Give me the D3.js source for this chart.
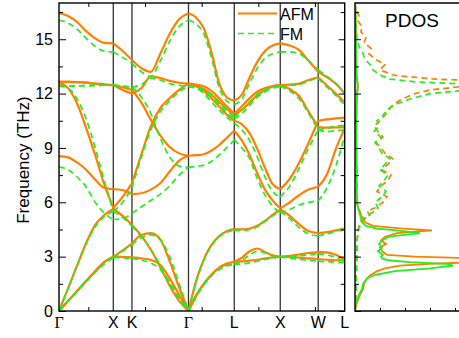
<!DOCTYPE html>
<html>
<head>
<meta charset="utf-8">
<script src="https://cdnjs.cloudflare.com/ajax/libs/d3/7.8.5/d3.min.js"></script>
<style>
  body { margin: 0; background: #fff; }
  svg { display: block; font-family: "Liberation Sans", Arial, sans-serif; }
</style>
</head>
<body>
<svg id="chart" width="459" height="338"></svg>
<script>
// k-path (distance along Γ-X-K-Γ-L-X-W-L)
const kPath = [0, 0.167, 0.333, 0.5, 0.667, 0.833, 1.0, 1.172, 1.344,
  1.518, 1.692, 1.865, 2.039, 2.212, 2.385, 2.525, 2.667, 2.807, 2.947, 3.088, 3.228,
  3.37, 3.512, 3.652, 3.794, 3.934, 4.075, 4.25, 4.425, 4.599, 4.774, 4.936, 5.099, 5.262];
const symIndex = [0, 6, 8, 14, 20, 26, 30, 33];
const symLabels = ["Γ", "X", "K", "Γ", "L", "X", "W", "L"];
const kTicks = [0.54, 1.584, 2.628, 3.672, 4.714];
const yMajor = [0, 3, 6, 9, 12, 15];
const yMinor = [1.5, 4.5, 7.5, 10.5, 13.5, 16.5];

const N = null;
// AFM branches (THz)
const afmTA1 = [0, 0.55, 1.1, 1.65, 2.2, 2.7, 3.0, 2.99, 2.96, 2.9, 2.82, 2.55, 1.8, 0.9, 0,
  0.85, 1.5, 2.0, 2.38, 2.6, 2.72, 2.74, 2.78, 2.83, 2.9, 2.96, 3.0, 2.98, 2.95, 2.9, 2.87, 2.83, 2.8, 2.78];
const afmTA2 = [0, 0.55, 1.1, 1.65, 2.2, 2.7, 3.0, 3.35, 3.73, 4.2, 4.3, 3.95, 2.75, 1.3, 0,
  0.85, 1.5, 2.0, 2.38, 2.6, 2.72, 2.95, 3.3, 3.45, 3.25, 3.07, 3.0, 3.05, 3.12, 3.2, 3.25, 3.24, 3.1, 2.82];
const afmLA = [0, 1.25, 2.5, 3.75, 4.75, 5.3, 5.63, 5.25, 4.75, 4.15, 3.38, 2.42, 1.4, 0.56, 0,
  1.65, 2.85, 3.65, 4.12, 4.4, 4.52, 4.5, 4.55, 4.7, 4.98, 5.3, 5.6, 5.25, 4.78, 4.4, 4.3, 4.35, 4.45, 4.55];
const afmOpt1 = [12.6, 12.3, 11.45, 10.1, 8.6, 7.0, 5.7, 6.3, 7.05, 8.65, 10.2, 11.2, 11.75, 12.2, 12.55,
  12.4, 12.15, 11.75, 11.3, 10.85, 10.5, 10.3, 9.8, 8.95, 7.9, 7.0, 6.72, 7.3, 8.2, 9.3, 10.5, 10.58, 10.63, 10.67];
const afmOpt2 = [8.55, 8.48, 8.2, 7.8, 7.25, 6.8, 6.72, 6.68, 6.45, 6.5, 6.7, 7.05, 7.7, 8.3, 8.57,
  8.6, 8.65, 8.85, 9.15, 9.55, 9.95, 9.4, 8.6, 7.6, 6.7, 6.1, 5.67, 6.0, 6.4, 6.7, 6.86, 7.55, 8.95, 10.08];
const afmOpt3 = [12.65, 12.65, 12.63, 12.6, 12.55, 12.5, 12.47, 12.35, 12.2, 11.5, 10.55, 9.7, 9.05, 8.7, 8.57,
  N, N, N, N, N, N, N, N, N, N, N, N, N, N, N, N, N, N, N];
const afmOpt4 = [12.65, 12.65, 12.63, 12.6, 12.55, 12.5, 12.47, 12.2, 12.0, 12.3, 12.95, 12.85, 12.7, 12.6, 12.55,
  12.5, 12.4, 12.15, 11.75, 11.3, 10.9, 11.3, 11.75, 12.1, 12.3, 12.42, 12.47, 12.5, 12.55, 12.75, 12.9, 12.45, 12.0, 11.5];
const afmOpt5 = [N, N, N, N, N, N, N, N, N, N, N, N, N, N, 12.55,
  12.45, 12.25, 11.95, 11.55, 11.15, 10.85, 11.1, 11.5, 11.9, 12.2, 12.4, 12.47, 12.25, 11.85, 11.0, 10.15, 10.12, 10.13, 10.15];
const afmTop = [16.46, 16.28, 15.95, 15.45, 15.05, 14.8, 14.77, 14.35, 13.85, 13.4, 13.2, 14.2, 15.3, 16.1, 16.43,
  16.2, 15.6, 14.3, 12.6, 11.8, 11.6, 11.95, 12.9, 13.75, 14.35, 14.65, 14.77, 14.65, 14.4, 13.8, 13.2, 12.9, 12.55, 12.0];

// FM branches (THz)
const fmTA1 = [0, 0.55, 1.1, 1.62, 2.15, 2.6, 2.95, 2.93, 2.9, 2.8, 2.65, 2.3, 1.6, 0.75, 0,
  0.8, 1.45, 1.95, 2.3, 2.5, 2.58, 2.6, 2.66, 2.75, 2.85, 2.92, 2.97, 2.92, 2.85, 2.8, 2.75, 2.72, 2.7, 2.66];
const fmTA2 = [0, 0.55, 1.1, 1.62, 2.15, 2.6, 2.95, 3.3, 3.65, 4.05, 4.2, 3.95, 3.0, 1.5, 0,
  0.8, 1.45, 1.95, 2.3, 2.5, 2.58, 2.8, 3.1, 3.3, 3.2, 3.05, 2.97, 3.0, 3.05, 3.1, 3.15, 3.1, 2.95, 2.7];
const fmLA = [0, 1.25, 2.5, 3.7, 4.65, 5.2, 5.5, 5.15, 4.7, 4.1, 3.4, 2.5, 1.5, 0.65, 0,
  1.6, 2.8, 3.6, 4.1, 4.35, 4.45, 4.45, 4.5, 4.65, 4.95, 5.25, 5.5, 5.1, 4.6, 4.25, 4.15, 4.25, 4.4, 4.5];
const fmOpt1 = [12.42, 12.3, 11.7, 10.6, 9.0, 7.2, 5.5, 6.0, 6.8, 8.5, 10.0, 11.0, 11.6, 12.1, 12.4,
  12.3, 12.0, 11.55, 11.1, 10.7, 10.36, 10.0, 9.4, 8.5, 7.4, 6.6, 6.3, 6.9, 7.9, 9.0, 10.0, 10.1, 10.2, 10.25];
const fmOpt2 = [7.96, 7.8, 7.4, 6.85, 6.0, 5.4, 5.05, 5.1, 5.39, 5.75, 6.1, 6.45, 6.9, 7.5, 7.93,
  7.98, 8.05, 8.25, 8.6, 9.0, 9.44, 9.0, 8.4, 7.3, 6.4, 5.8, 5.4, 5.6, 5.85, 6.0, 6.07, 6.8, 8.0, 9.7];
const fmOpt3 = [12.42, 12.42, 12.43, 12.44, 12.45, 12.46, 12.47, 12.42, 12.35, 11.8, 10.9, 9.55, 8.5, 8.0, 7.93,
  N, N, N, N, N, N, N, N, N, N, N, N, N, N, N, N, N, N, N];
const fmOpt4 = [12.42, 12.42, 12.43, 12.44, 12.45, 12.46, 12.47, 12.4, 12.35, 12.5, 12.85, 12.75, 12.55, 12.45, 12.4,
  12.35, 12.2, 11.95, 11.55, 11.1, 10.7, 11.1, 11.55, 11.95, 12.2, 12.35, 12.4, 12.45, 12.5, 12.7, 12.85, 12.35, 11.9, 11.35];
const fmOpt5 = [N, N, N, N, N, N, N, N, N, N, N, N, N, N, 12.4,
  12.3, 12.1, 11.8, 11.4, 10.95, 10.6, 10.9, 11.35, 11.8, 12.1, 12.3, 12.4, 12.15, 11.7, 10.9, 10.0, 9.9, 9.95, 10.0];
const fmTop = [16.05, 15.9, 15.55, 15.05, 14.6, 14.35, 14.3, 14.0, 13.67, 13.2, 12.95, 13.8, 14.9, 15.7, 16.05,
  15.85, 15.3, 14.0, 12.35, 11.6, 11.4, 11.7, 12.6, 13.4, 13.95, 14.2, 14.3, 14.3, 14.2, 13.8, 13.3, 12.95, 12.55, 12.0];

// PDOS (arb. units)
const dosFreq = [0, 0.3, 0.6, 0.9, 1.2, 1.5, 1.8, 2.0, 2.2, 2.35, 2.5, 2.6, 2.7, 2.8, 2.9, 3.0, 3.1, 3.3, 3.5, 3.7,
  3.9, 4.1, 4.3, 4.45, 4.55, 4.7, 4.9, 5.1, 5.3, 5.5, 5.7, 6.0, 6.3, 6.6, 6.9, 7.2, 7.5, 7.8, 8.1, 8.4,
  8.7, 9.0, 9.3, 9.6, 9.9, 10.2, 10.5, 10.8, 11.1, 11.4, 11.7, 12.0, 12.2, 12.35, 12.5, 12.65, 12.8, 13.0, 13.3, 13.6,
  13.9, 14.2, 14.5, 14.8, 15.1, 15.4, 15.7, 16.0, 16.3, 16.6, 17.0];
const dosAfmSolid = [0, 1, 3, 5, 8, 9, 12, 16, 22, 30, 45, 75, 120, 150, 130, 60, 32, 27, 25, 31,
  26, 30, 42, 77, 48, 18, 10, 8, 6, 5, 3, 2, 2, 1.5, 2, 1.5, 1.5, 2, 1.5, 1.5,
  1.5, 1.5, 1, 1.5, 1, 1.5, 1, 1.5, 1.5, 1.5, 2, 2, 2.5, 3, 3, 2.5, 2, 1.5, 1.5, 1.5,
  1, 1, 1, 1, 1, 1, 0.5, 0.5, 0.5, 0.5, 0];
const dosFmSolid = [0, 0.5, 2, 4, 7, 8, 12, 20, 40, 75, 98, 92, 55, 33, 27, 26, 28, 23, 27, 24,
  27, 34, 65, 42, 22, 11, 7, 6, 5, 4, 3, 2, 2, 1.5, 2, 1.5, 1.5, 2, 1.5, 1.5,
  1.5, 1.5, 1, 1.5, 1, 1.5, 1, 1.5, 1.5, 1.5, 2, 2, 2.5, 2.5, 2.5, 2, 2, 1.5, 1.5, 1,
  1, 1, 1, 1, 1, 0.5, 0.5, 0.5, 0.5, 0.5, 0];
const dosAfmDash = [0, 0.5, 0.5, 1, 1, 1, 1, 1, 1.5, 1.5, 1.5, 2, 2, 2, 2, 2, 2, 2, 2, 2,
  2, 2.5, 3, 3, 3.5, 4, 5, 8, 15, 12, 20, 28, 32, 22, 26, 33, 36, 27, 33, 38,
  30, 26, 21, 28, 23, 19, 25, 30, 34, 38, 47, 60, 75, 100, 135, 150, 80, 40, 25, 30,
  20, 14, 16, 9, 11, 6, 7, 3, 4, 1, 0];
const dosFmDash = [0, 0.5, 0.5, 1, 1, 1, 1, 1, 1.5, 1.5, 1.5, 2, 2, 2, 2, 2, 2, 2, 2, 2,
  2, 2.5, 3, 3.5, 4, 5, 7, 10, 13, 19, 23, 20, 27, 31, 24, 29, 33, 25, 30, 35,
  27, 24, 20, 26, 19, 24, 22, 28, 32, 40, 55, 75, 115, 145, 120, 60, 35, 26, 18, 15,
  10, 8, 5, 3, 2, 1.5, 1, 1, 0.5, 0.5, 0];

const orange = "#ff8000";
const green = "#22ee22";

const svg = d3.select("#chart");
const x = d3.scaleLinear().domain([0, kPath[kPath.length - 1]]).range([59, 344.7]);
const y = d3.scaleLinear().domain([0, 17]).range([311, 3]);
const dosX = d3.scaleLinear().domain([0, 100]).range([355, 455]);

const defs = svg.append("defs");
defs.append("clipPath").attr("id", "clipMain").append("rect")
  .attr("x", x(0)).attr("y", y(17)).attr("width", x.range()[1] - x(0)).attr("height", y(0) - y(17));
defs.append("clipPath").attr("id", "clipDos").append("rect")
  .attr("x", dosX(0)).attr("y", y(17)).attr("width", 459 - dosX(0)).attr("height", y(0) - y(17));

// high symmetry lines
svg.append("g").selectAll("line")
  .data(symIndex.slice(1, -1))
  .enter().append("line")
  .attr("x1", i => x(kPath[i])).attr("x2", i => x(kPath[i]))
  .attr("y1", y(17)).attr("y2", y(0))
  .attr("stroke", "#333").attr("stroke-width", 1.3);

const bandLine = d3.line().x(d => x(d[0])).y(d => y(d[1])).curve(d3.curveMonotoneX);
const gBands = svg.append("g").attr("clip-path", "url(#clipMain)");

function drawBands(bands, color, dash, width) {
  bands.forEach(band => {
    for (let s = 0; s < symIndex.length - 1; s++) {
      const pts = [];
      for (let i = symIndex[s]; i <= symIndex[s + 1]; i++) {
        if (band[i] != null) pts.push([kPath[i], band[i]]);
      }
      if (pts.length < 2) continue;
      gBands.append("path")
        .attr("d", bandLine(pts))
        .attr("fill", "none")
        .attr("stroke", color)
        .attr("stroke-width", width)
        .attr("stroke-dasharray", dash);
    }
  });
}

drawBands([afmTA1, afmTA2, afmLA, afmOpt1, afmOpt2, afmOpt3, afmOpt4, afmOpt5, afmTop], orange, null, 2.2);
drawBands([fmTA1, fmTA2, fmLA, fmOpt1, fmOpt2, fmOpt3, fmOpt4, fmOpt5, fmTop], green, "6,4", 1.7);

// PDOS
const gDos = svg.append("g").attr("clip-path", "url(#clipDos)");
const dosLine = d3.line().x(d => dosX(d[1])).y(d => y(d[0]));
[[dosAfmDash, orange, "6,4", 1.7], [dosFmDash, green, "6,4", 1.7],
 [dosAfmSolid, orange, null, 1.8], [dosFmSolid, green, null, 1.8]].forEach(([vals, color, dash, w]) => {
  gDos.append("path")
    .attr("d", dosLine(dosFreq.map((f, i) => [f, vals[i]])))
    .attr("fill", "none")
    .attr("stroke", color)
    .attr("stroke-width", w)
    .attr("stroke-dasharray", dash);
});

// frames
svg.append("rect")
  .attr("x", x(0)).attr("y", y(17)).attr("width", x.range()[1] - x(0)).attr("height", y(0) - y(17))
  .attr("fill", "none").attr("stroke", "#000").attr("stroke-width", 1.4);
svg.append("path")
  .attr("d", `M459,${y(17)}H${dosX(0)}V${y(0)}H459`)
  .attr("fill", "none").attr("stroke", "#000").attr("stroke-width", 1.4);

// axes
function clean(g) { g.select(".domain").remove(); g.selectAll("line").attr("stroke", "#000"); }

const yAxis = svg.append("g").attr("transform", `translate(${x(0)},0)`)
  .call(d3.axisLeft(y).tickValues(yMajor).tickSize(-7).tickPadding(6).tickFormat(d3.format("d")))
  .call(clean);
yAxis.selectAll("text").attr("font-size", 16).attr("fill", "#000")
  .attr("font-family", "'Liberation Sans', Arial, sans-serif");
svg.append("g").attr("transform", `translate(${x(0)},0)`)
  .call(d3.axisLeft(y).tickValues(yMinor).tickSize(-4).tickFormat("")).call(clean);
svg.append("g").attr("transform", `translate(${x.range()[1]},0)`)
  .call(d3.axisRight(y).tickValues(yMajor).tickSize(-6).tickFormat("")).call(clean);
svg.append("g").attr("transform", `translate(${x.range()[1]},0)`)
  .call(d3.axisRight(y).tickValues(yMinor).tickSize(-4).tickFormat("")).call(clean);
svg.append("g").attr("transform", `translate(${dosX(0)},0)`)
  .call(d3.axisLeft(y).tickValues(yMajor).tickSize(-6).tickFormat("")).call(clean);
svg.append("g").attr("transform", `translate(${dosX(0)},0)`)
  .call(d3.axisLeft(y).tickValues(yMinor).tickSize(-4).tickFormat("")).call(clean);
svg.append("g").attr("transform", `translate(0,${y(0)})`)
  .call(d3.axisBottom(x).tickValues(kTicks).tickSize(-4).tickFormat("")).call(clean);
svg.append("g").attr("transform", `translate(0,${y(17)})`)
  .call(d3.axisTop(x).tickValues(kTicks).tickSize(-4).tickFormat("")).call(clean);
svg.append("g").attr("transform", `translate(0,${y(0)})`)
  .call(d3.axisBottom(dosX).tickValues([25, 50, 75, 100]).tickSize(-3).tickFormat("")).call(clean);

// k labels
svg.append("g").selectAll("text")
  .data(symIndex)
  .enter().append("text")
  .attr("x", (d) => x(kPath[d]))
  .attr("y", 328)
  .attr("text-anchor", "middle")
  .attr("font-size", 16)
  .attr("font-family", (d, i) => symLabels[i] === "Γ" ? "'Liberation Serif', serif" : "'Liberation Sans', Arial, sans-serif")
  .text((d, i) => symLabels[i]);

// y title
svg.append("text")
  .attr("transform", "translate(29,160) rotate(-90)")
  .attr("text-anchor", "middle")
  .attr("font-size", 17)
  .text("Frequency (THz)");

// legend
svg.append("line").attr("x1", 238).attr("x2", 277).attr("y1", 13.5).attr("y2", 13.5)
  .attr("stroke", orange).attr("stroke-width", 2.2);
svg.append("text").attr("x", 280).attr("y", 19.5).attr("font-size", 16).text("AFM");
svg.append("line").attr("x1", 238).attr("x2", 277).attr("y1", 33.5).attr("y2", 33.5)
  .attr("stroke", green).attr("stroke-width", 1.7).attr("stroke-dasharray", "6,4");
svg.append("text").attr("x", 280).attr("y", 39.5).attr("font-size", 16).text("FM");

svg.append("text").attr("x", 385).attr("y", 27).attr("font-size", 19).text("PDOS");
</script>
</body>
</html>
